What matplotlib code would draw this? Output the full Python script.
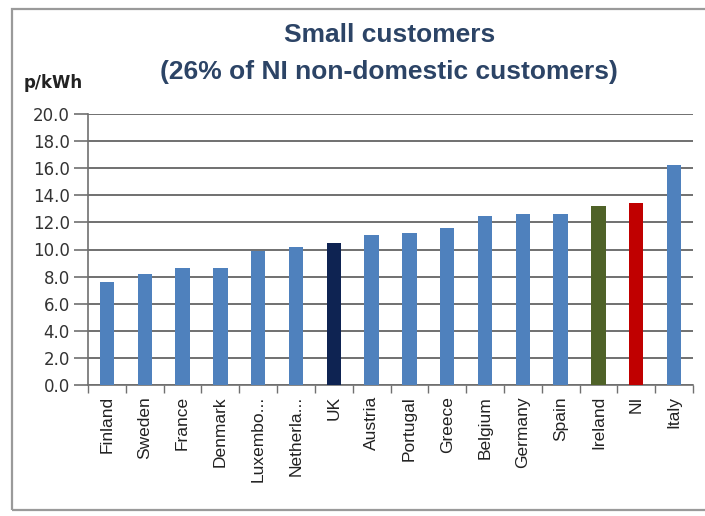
import matplotlib
matplotlib.use("Agg")
import matplotlib.pyplot as plt
from matplotlib.patches import Rectangle

countries = ["Finland", "Sweden", "France", "Denmark", "Luxembo...", "Netherla...",
             "UK", "Austria", "Portugal", "Greece", "Belgium", "Germany",
             "Spain", "Ireland", "NI", "Italy"]
prices = [7.6, 8.2, 8.6, 8.6, 9.9, 10.2, 10.5, 11.1, 11.2, 11.6, 12.5, 12.6,
          12.6, 13.2, 13.4, 16.2]
yticks = [0, 2, 4, 6, 8, 10, 12, 14, 16, 18, 20]

base = "#4F81BD"
highlight = {"UK": "#0E2352", "Ireland": "#4F6228", "NI": "#C00000"}
colors = [highlight.get(c, base) for c in countries]

plt.rcParams["font.family"] = ["Liberation Sans", "DejaVu Sans"]

fig = plt.figure(figsize=(7.05, 5.16), dpi=100)
fig.patch.set_facecolor("white")

# outer chart frame
fig.add_artist(Rectangle((12 / 705, 1 - 510 / 516), 700 / 705, (510 - 9) / 516,
                         transform=fig.transFigure, fill=False,
                         edgecolor="#9a9a9a", linewidth=1.6))

ax = fig.add_axes([88 / 705, 1 - 385 / 516, 605 / 705, 271 / 516])
x = list(range(len(countries)))
ax.bar(x, prices, width=0.38, color=colors, zorder=3)

ax.set_xlim(-0.5, len(countries) - 0.5)
ax.set_ylim(0, 20)
ax.set_yticks(yticks)
ax.set_yticklabels([f"{v:.1f}" for v in yticks], fontsize=12, color="#333333",
                   family=["DejaVu Sans"])
ax.yaxis.grid(True, color="#707070", linewidth=1.4, zorder=0)
ax.tick_params(axis="y", length=10, width=1.2, color="#707070", pad=3, direction="out")

ax.set_xticks(x)
ax.set_xticklabels(countries, rotation=90, fontsize=12.5, color="#222222")
ax.tick_params(axis="x", length=0, pad=8)
ax.set_xticks([i - 0.5 for i in range(len(countries) + 1)], minor=True)
ax.tick_params(axis="x", which="minor", length=6, width=1, color="#707070")

for s in ["top", "right"]:
    ax.spines[s].set_visible(False)
ax.spines["left"].set_color("#707070")
ax.spines["bottom"].set_color("#707070")
ax.spines["left"].set_linewidth(1.2)
ax.spines["bottom"].set_linewidth(1.2)

fig.text(390 / 705, 1 - 35 / 516, "Small customers", ha="center", va="center",
         fontsize=19, fontweight="bold", color="#2C4466")
fig.text(389 / 705, 1 - 72 / 516, "(26% of NI non-domestic customers)", ha="center",
         va="center", fontsize=19, fontweight="bold", color="#2C4466")
fig.text(24 / 705, 1 - 83 / 516, "p/kWh", ha="left", va="center", fontsize=12,
         fontweight="bold", color="#222222", family=["DejaVu Sans"])

fig.savefig("out.png", dpi=100, facecolor="white")
